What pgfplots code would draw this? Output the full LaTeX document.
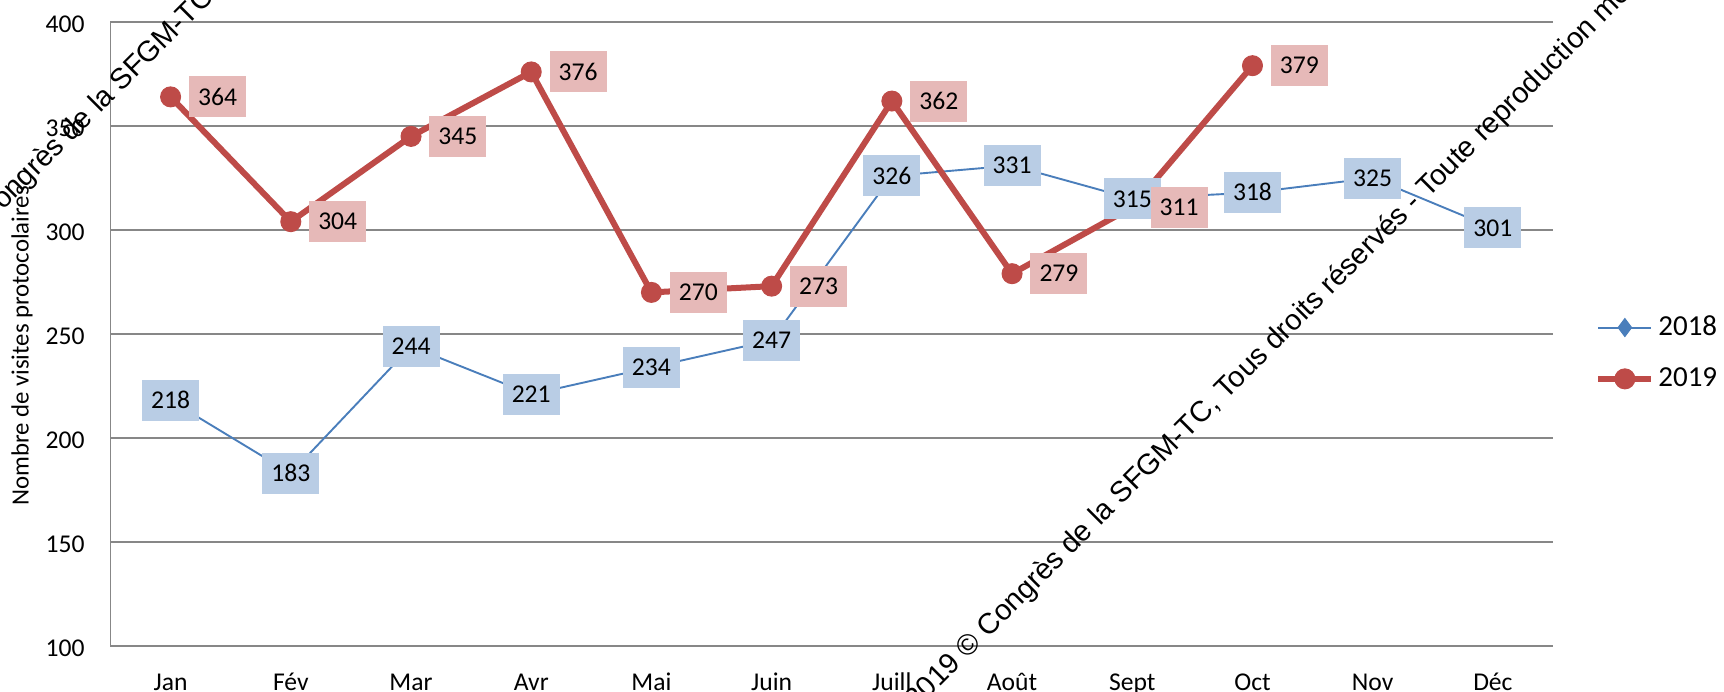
\documentclass[border=0pt]{standalone}
\usepackage{fontspec}
\setmainfont{Carlito}
\newfontfamily\wmfont{Liberation Sans}
\usepackage{pgfplots}
\usepackage{pgfplotstable}
\pgfplotsset{compat=1.18}
\definecolor{blueS}{HTML}{4A7EBB}
\definecolor{redS}{HTML}{BE4B48}
\definecolor{blueL}{HTML}{B9CDE5}
\definecolor{redL}{HTML}{E6B9B8}
\definecolor{gridc}{HTML}{878787}
\pgfplotstableread{
x y
0 218
1 183
2 244
3 221
4 234
5 247
6 326
7 331
8 315
9 318
10 325
11 301
}\dataA
\pgfplotstableread{
x y
0 364
1 304
2 345
3 376
4 270
5 273
6 362
7 279
8 311
9 379
}\dataB
\begin{document}
\begin{tikzpicture}
\useasboundingbox (0,0) rectangle (862pt,345.5pt);
\begin{axis}[
  at={(55.25pt,22.5pt)}, anchor=south west,
  scale only axis, width=721.25pt, height=312pt,
  xmin=-0.5, xmax=11.5, ymin=100, ymax=400,
  xtick={0,...,11},
  xticklabels={Jan,Fév,Mar,Avr,Mai,Juin,Juill,Août,Sept,Oct,Nov,Déc},
  ytick={100,150,...,400},
  axis lines*=left,
  axis line style={-, gridc, line width=0.75pt},
  ymajorgrids, major grid style={gridc, line width=0.75pt},
  major tick length=0pt,
  tick label style={font=\fontsize{12.8}{15}\selectfont, black},
  yticklabel style={anchor=east, inner sep=0pt, xshift=-12.75pt, yshift=-1pt},
  xticklabel style={anchor=base, inner sep=0pt, yshift=-22pt},
  ylabel={Nombre de visites protocolaires},
  ylabel style={at={(rel axis cs:0,0.4808)}, anchor=center, yshift=44.25pt, font=\fontsize{12.4}{14}\selectfont},
  clip=false,
  /pgf/number format/assume math mode=true,
  legend style={at={(1.0291,0.4696)}, anchor=west, draw=none, fill=none, inner sep=0pt,
    font=\fontsize{14.5}{17}\selectfont, row sep=10.5pt, cells={anchor=west},
    /tikz/every odd column/.append style={column sep=0pt}},
  legend image code/.code={\draw[mark repeat=2,mark phase=2,#1] plot coordinates {(0pt,0pt) (13.25pt,0pt) (26.5pt,0pt)};},
]
\addplot[blueS, line width=0.95pt, mark=diamond*, mark size=4.5pt, mark options={solid, line width=0.5pt}] table[x=x,y=y] {\dataA};
\addlegendentry{2018}
\addplot[redS, line width=3pt, line join=round, mark=*, mark size=5pt, mark options={line width=0.5pt}] table[x=x,y=y] {\dataB};
\addlegendentry{2019}
\addplot[draw=none, forget plot, nodes near coords,
  every node near coord/.append style={fill=blueL, text=black, anchor=center, inner sep=0pt,
    minimum width=28.5pt, minimum height=20.5pt, text height=8.3pt, text depth=0pt,
    font=\fontsize{12.8}{15}\selectfont}] table[x=x,y=y] {\dataA};
\addplot[draw=none, forget plot, nodes near coords,
  every node near coord/.append style={fill=redL, text=black, anchor=west, xshift=9pt, inner sep=0pt,
    minimum width=28.5pt, minimum height=20.5pt, text height=8.3pt, text depth=0pt,
    font=\fontsize{12.8}{15}\selectfont}] table[x=x,y=y] {\dataB};
\end{axis}
\node[rotate=45, anchor=base west, inner sep=0pt, font=\wmfont\fontsize{14.5}{17}\selectfont] at (458pt,-10pt)
  {2019 © Congrès de la SFGM-TC, Tous droits réservés - Toute reproduction même partielle interdite};
\node[rotate=45, anchor=base west, inner sep=0pt, font=\wmfont\fontsize{14.5}{17}\selectfont] at (-42pt,196.5pt)
  {2019 © Congrès de la SFGM-TC, Tous droits réservés - Toute reproduction même partielle interdite};
\end{tikzpicture}
\end{document}
